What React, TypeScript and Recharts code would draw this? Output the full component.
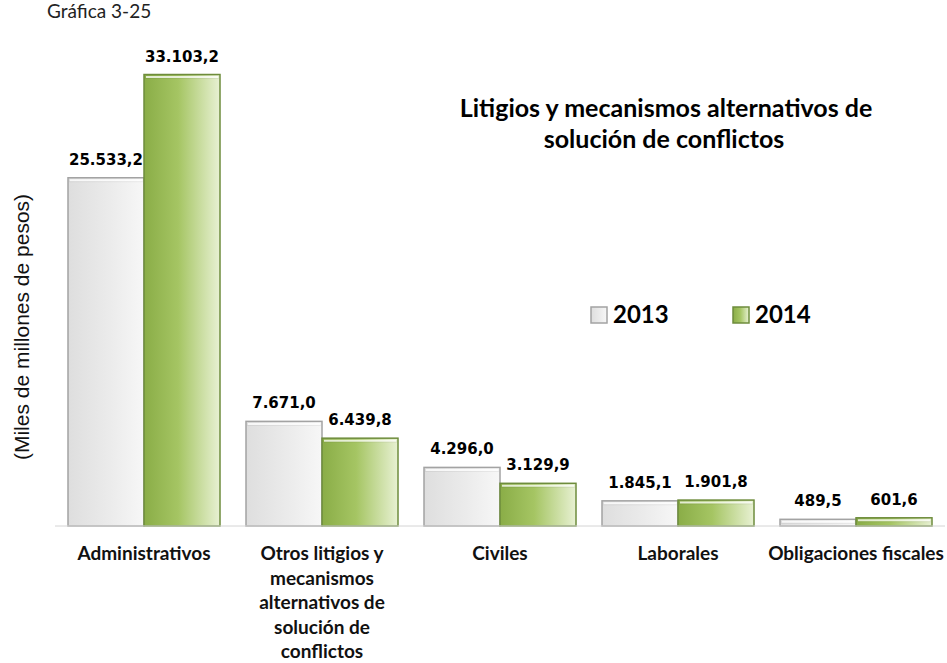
import { Bar, BarChart, LabelList, XAxis, YAxis } from "recharts";

const categories = [
  "Administrativos",
  "Otros litigios y mecanismos alternativos de solución de conflictos",
  "Civiles",
  "Laborales",
  "Obligaciones fiscales",
];
const values2013 = [25533.2, 7671.0, 4296.0, 1845.1, 489.5];
const values2014 = [33103.2, 6439.8, 3129.9, 1901.8, 601.6];
const seriesNames = ["2013", "2014"];
const tickLines: Record<string, string[]> = {
  "Otros litigios y mecanismos alternativos de solución de conflictos": [
    "Otros litigios y",
    "mecanismos",
    "alternativos de",
    "solución de",
    "conflictos",
  ],
};

const data = categories.map((name, i) => ({ name, y2013: values2013[i], y2014: values2014[i] }));

const LABEL_FONT = "'DejaVu Sans', Verdana, sans-serif";
const TEXT_FONT = "Lato, 'Open Sans', sans-serif";
const GRAY = { fill: "url(#grayGrad)", stroke: "#a3a3a3" };
const GREEN = { fill: "url(#greenGrad)", stroke: "#6e8c3c" };

function fmt(v: number) {
  const [int, dec] = v.toFixed(1).split(".");
  return int.replace(/\B(?=(\d{3})+(?!\d))/g, ".") + "," + dec;
}

function CategoryTick({ x, y, payload }: any) {
  const lines = tickLines[payload.value] ?? [payload.value];
  return (
    <text x={x} y={y + 26} textAnchor="middle" fontFamily={TEXT_FONT} fontWeight={700} fontSize={19} fill="#111">
      {lines.map((l, i) => (
        <tspan key={i} x={x} dy={i === 0 ? 0 : 24.5}>
          {l}
        </tspan>
      ))}
    </text>
  );
}

function BevelBar({ x, y, width, height, fill, stroke }: any) {
  if (!height || height <= 0) return null;
  return (
    <g>
      <rect x={x} y={y} width={width} height={height} fill={fill} stroke={stroke} strokeWidth={1.5} />
      <line x1={x + 2} x2={x + width - 2} y1={y + 2.5} y2={y + 2.5} stroke="#ffffff" strokeOpacity={0.75} strokeWidth={2} />
      <line x1={x + 1} x2={x + width - 1} y1={y + 4} y2={y + 4} stroke="#000" strokeOpacity={0.06} strokeWidth={1} />
    </g>
  );
}

function Overlay() {
  const legendX = [591, 733];
  const styles = [GRAY, GREEN];
  return (
    <svg width={947} height={663} style={{ position: "absolute", left: 0, top: 0, pointerEvents: "none" }}>
      <text x={47} y={18} fontFamily={TEXT_FONT} fontSize={19} fill="#222">
        Gráfica 3-25
      </text>
      <text x={666} y={117} textAnchor="middle" fontFamily={TEXT_FONT} fontWeight={700} fontSize={25} fill="#000">
        Litigios y mecanismos alternativos de
      </text>
      <text x={664} y={148} textAnchor="middle" fontFamily={TEXT_FONT} fontWeight={700} fontSize={25} fill="#000">
        solución de conflictos
      </text>
      <text
        transform="translate(29,327) rotate(-90)"
        textAnchor="middle"
        fontFamily="'Liberation Sans', Arial, sans-serif"
        fontSize={21}
        fill="#111"
      >
        (Miles de millones de pesos)
      </text>
      {seriesNames.map((name, i) => (
        <g key={name}>
          <rect x={legendX[i]} y={307} width={16} height={16} fill={styles[i].fill} stroke={styles[i].stroke} strokeWidth={1.5} />
          <text x={legendX[i] + 22} y={323} fontFamily={TEXT_FONT} fontWeight={700} fontSize={24} fill="#000">
            {name}
          </text>
        </g>
      ))}
    </svg>
  );
}

export default function App() {
  return (
    <div style={{ position: "absolute", left: 0, top: 0, width: 947, height: 663, background: "#fff" }}>
      <BarChart
        width={947}
        height={663}
        data={data}
        margin={{ top: 35, right: 2, bottom: 107, left: 55 }}
        barCategoryGap={13}
        barGap={0}
        style={{ position: "absolute", left: 0, top: 0 }}
      >
        <defs>
          <linearGradient id="grayGrad" x1="0" y1="0" x2="1" y2="0">
            <stop offset="0%" stopColor="#dedede" />
            <stop offset="55%" stopColor="#ebebeb" />
            <stop offset="100%" stopColor="#f7f7f7" />
          </linearGradient>
          <linearGradient id="greenGrad" x1="0" y1="0" x2="1" y2="0">
            <stop offset="0%" stopColor="#8aad47" />
            <stop offset="45%" stopColor="#a5c563" />
            <stop offset="100%" stopColor="#e8f1d3" />
          </linearGradient>
        </defs>
        <XAxis
          dataKey="name"
          axisLine={{ stroke: "#d4d4d4" }}
          tickLine={false}
          interval={0}
          tick={<CategoryTick />}
        />
        <YAxis hide domain={[0, 36000]} />
        <Bar dataKey="y2013" name={seriesNames[0]} {...GRAY} shape={<BevelBar />} isAnimationActive={false}>
          <LabelList
            dataKey="y2013"
            position="top"
            offset={13}
            formatter={(v: any) => fmt(Number(v))}
            style={{ fontFamily: LABEL_FONT, fontWeight: 700, fontSize: 15, fill: "#000" }}
          />
        </Bar>
        <Bar dataKey="y2014" name={seriesNames[1]} {...GREEN} shape={<BevelBar />} isAnimationActive={false}>
          <LabelList
            dataKey="y2014"
            position="top"
            offset={13}
            formatter={(v: any) => fmt(Number(v))}
            style={{ fontFamily: LABEL_FONT, fontWeight: 700, fontSize: 15, fill: "#000" }}
          />
        </Bar>
      </BarChart>
      <Overlay />
    </div>
  );
}
